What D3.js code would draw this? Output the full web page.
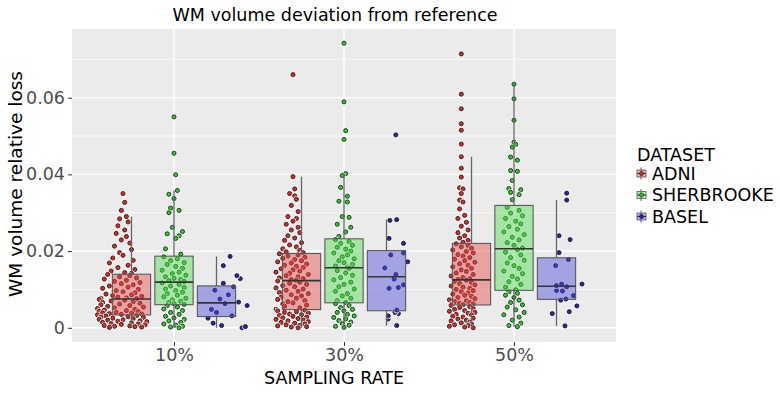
<!DOCTYPE html>
<html>
<head>
<meta charset="utf-8">
<script src="https://cdn.jsdelivr.net/npm/d3@7"></script>
<style>
  body { margin: 0; background: #fff; }
  text { font-family: "DejaVu Sans", sans-serif; }
</style>
</head>
<body>
<div id="chart"></div>
<script>
const rates = ["10%", "30%", "50%"];
const datasets = ["ADNI", "SHERBROOKE", "BASEL"];
const yTicks = [0, 0.02, 0.04, 0.06];
const yMinor = [0.01, 0.03, 0.05, 0.07];

// points: [horizontal jitter, relative loss]
const adni10 = [
  [0.00,.0350],[0.01,.0327],[-0.01,.0306],[0.02,.0290],[-0.02,.0284],[0.03,.0276],[-0.03,.0266],[0.01,.0255],[-0.04,.0246],[0.02,.0238],
  [-0.01,.0229],[0.04,.0221],[-0.05,.0213],[0.05,.0204],[-0.02,.0196],[0.00,.0189],[-0.06,.0182],[0.06,.0176],[-0.08,.0169],[0.03,.0163],
  [-0.03,.0157],[0.07,.0152],[-0.07,.0148],[0.01,.0144],[0.05,.0142],
  [-0.09,.0139],[0.04,.0136],[-0.02,.0133],[0.08,.0130],[-0.11,.0127],[0.02,.0124],[-0.05,.0121],[0.10,.0118],[-0.01,.0115],[0.06,.0112],
  [-0.08,.0109],[0.03,.0106],[-0.12,.0103],[0.09,.0100],[-0.04,.0097],[0.00,.0094],[0.07,.0091],[-0.10,.0088],[0.05,.0086],[-0.06,.0084],
  [0.11,.0082],[-0.03,.0080],[0.02,.0078],[-0.13,.0077],[0.08,.0076],
  [-0.14,.0074],[0.01,.0072],[-0.07,.0070],[0.06,.0068],[-0.12,.0066],[0.10,.0064],[-0.02,.0062],[-0.13,.0060],[0.04,.0058],[-0.09,.0056],
  [0.12,.0054],[-0.05,.0052],[-0.15,.0050],[0.07,.0048],[-0.11,.0046],[0.02,.0045],[-0.14,.0043],[0.09,.0042],[-0.04,.0040],[-0.12,.0039],
  [0.05,.0038],[-0.08,.0037],[0.11,.0036],[-0.01,.0035],[-0.15,.0034],
  [0.08,.0032],[-0.10,.0031],[0.03,.0029],[-0.13,.0028],[0.12,.0027],[-0.06,.0025],[0.06,.0024],[-0.14,.0022],[0.00,.0021],[-0.09,.0020],
  [0.10,.0018],[-0.03,.0017],[0.14,.0016],[-0.12,.0014],[0.05,.0013],[-0.07,.0011],[0.09,.0010],[-0.01,.0009],[0.13,.0008],[-0.11,.0006],
  [0.04,.0005],[-0.05,.0004],[0.07,.0003],[0.11,.0002],[-0.08,.0001]
];
const sherb10 = [
  [0.00,.0550],[0.00,.0455],[0.01,.0399],[0.02,.0358],[-0.03,.0348],[0.00,.0337],[-0.02,.0312],[0.03,.0306],[-0.03,.0300],[-0.01,.0262],
  [0.05,.0251],[-0.04,.0245],[0.03,.0240],[0.01,.0233],[-0.05,.0206],[0.04,.0192],
  [-0.06,.0185],[0.02,.0180],[-0.02,.0175],[0.06,.0170],[-0.04,.0165],[0.01,.0160],[0.05,.0155],[-0.07,.0150],[0.03,.0145],[-0.01,.0141],
  [0.07,.0137],[-0.05,.0133],[0.00,.0129],[0.04,.0126],[-0.03,.0123],[0.06,.0121],
  [-0.07,.0117],[0.03,.0113],[-0.02,.0109],[0.06,.0105],[-0.05,.0101],[0.01,.0097],[0.05,.0093],[-0.04,.0089],[0.02,.0085],[-0.06,.0081],
  [0.07,.0077],[-0.01,.0073],[0.04,.0069],[-0.03,.0066],[0.00,.0063],[0.06,.0061],
  [-0.04,.0058],[0.02,.0054],[-0.06,.0049],[0.05,.0045],[-0.02,.0040],[0.03,.0035],[-0.05,.0030],[0.00,.0026],[0.06,.0022],[-0.03,.0018],
  [0.04,.0014],[-0.06,.0010],[0.01,.0007],[0.05,.0004],[-0.02,.0002],[0.03,.0000]
];
const basel10 = [
  [0.10,.0000],[0.12,.0003],[-0.02,.0006],[-0.07,.0012],[-0.10,.0025],[0.04,.0031],[-0.05,.0040],[-0.08,.0048],[0.13,.0058],[0.00,.0063],
  [0.08,.0067],[-0.03,.0075],[0.02,.0086],[-0.06,.0098],[0.05,.0107],[-0.01,.0116],[0.09,.0128],[0.07,.0136],[-0.01,.0162],[0.03,.0186]
];
const adni30 = [
  [0.00,.0660],[0.00,.0394],[0.01,.0362],[-0.02,.0350],[0.01,.0344],[0.02,.0335],[-0.01,.0319],[0.03,.0303],[-0.03,.0290],[0.02,.0285],
  [0.00,.0278],[-0.04,.0270],[0.03,.0262],[-0.01,.0255],[0.04,.0248],[-0.03,.0240],[0.01,.0234],[-0.05,.0228],[0.05,.0222],[-0.02,.0216],
  [0.02,.0211],[-0.06,.0206],[0.04,.0202],[-0.04,.0198],[0.06,.0196],
  [-0.08,.0193],[0.03,.0190],[-0.03,.0187],[0.07,.0184],[-0.06,.0181],[0.01,.0178],[0.05,.0175],[-0.09,.0172],[-0.01,.0169],[0.08,.0166],
  [-0.05,.0163],[0.02,.0160],[0.06,.0157],[-0.07,.0154],[0.00,.0151],[0.04,.0148],[-0.10,.0145],[-0.02,.0142],[0.09,.0139],[-0.04,.0136],
  [0.03,.0133],[-0.08,.0130],[0.06,.0128],[-0.01,.0126],[0.02,.0124],
  [-0.09,.0122],[0.04,.0119],[-0.02,.0116],[0.08,.0113],[-0.06,.0110],[0.01,.0107],[-0.10,.0104],[0.06,.0101],[-0.04,.0098],[0.03,.0095],
  [-0.08,.0092],[0.09,.0089],[-0.01,.0086],[0.05,.0083],[-0.07,.0080],[0.02,.0077],[-0.09,.0074],[0.07,.0071],[-0.03,.0068],[0.00,.0065],
  [-0.06,.0062],[0.08,.0059],[-0.05,.0056],[0.04,.0052],[-0.10,.0048],
  [0.07,.0046],[-0.09,.0044],[0.02,.0042],[-0.05,.0040],[0.09,.0038],[-0.02,.0036],[0.05,.0034],[-0.08,.0032],[0.00,.0030],[0.08,.0028],
  [-0.06,.0026],[0.03,.0024],[-0.10,.0022],[0.06,.0020],[-0.03,.0018],[0.09,.0016],[-0.07,.0014],[0.01,.0012],[0.07,.0010],[-0.04,.0008],
  [0.04,.0006],[-0.09,.0005],[0.08,.0003],[-0.01,.0002],[0.03,.0000]
];
const sherb30 = [
  [0.00,.0742],[0.00,.0589],[0.01,.0514],[0.00,.0491],[0.01,.0402],[-0.01,.0397],[-0.02,.0366],[0.02,.0343],[-0.03,.0330],[0.02,.0328],
  [-0.01,.0290],[0.03,.0288],[-0.04,.0270],[0.04,.0262],[0.01,.0250],[-0.03,.0238],
  [-0.05,.0230],[0.03,.0225],[-0.02,.0220],[0.05,.0215],[-0.04,.0210],[0.01,.0205],[0.04,.0200],[-0.06,.0195],[0.02,.0190],[-0.01,.0185],
  [0.06,.0180],[-0.03,.0175],[0.00,.0170],[0.05,.0165],[-0.05,.0161],[0.02,.0158],
  [0.03,.0155],[-0.04,.0149],[0.01,.0143],[0.05,.0137],[-0.02,.0131],[-0.06,.0125],[0.04,.0119],[0.00,.0113],[-0.03,.0107],[0.06,.0101],
  [-0.05,.0095],[0.02,.0089],[-0.01,.0083],[0.04,.0077],[-0.04,.0071],[0.01,.0066],
  [-0.05,.0063],[0.03,.0058],[-0.02,.0053],[0.05,.0048],[0.00,.0044],[-0.04,.0040],[0.02,.0035],[0.06,.0031],[-0.06,.0027],[0.01,.0023],
  [-0.03,.0019],[0.04,.0015],[-0.01,.0011],[0.03,.0007],[-0.05,.0004],[0.00,.0001]
];
const basel30 = [
  [0.01,.0006],[-0.04,.0023],[-0.04,.0031],[0.02,.0037],[0.00,.0040],[0.01,.0046],[-0.035,.0103],[0.02,.0105],[0.05,.0112],[-0.005,.0127],
  [0.005,.0139],[-0.06,.0156],[0.075,.0172],[-0.025,.0190],[0.05,.0195],[0.05,.0220],[-0.035,.0233],[-0.03,.0280],[0.01,.0282],[0.005,.0503]
];
const adni50 = [
  [-0.01,.0714],[-0.01,.0609],[-0.01,.0571],[-0.01,.0532],[-0.01,.0515],[-0.01,.0479],[-0.01,.0446],[-0.01,.0416],[-0.01,.0393],[-0.02,.0365],
  [0.00,.0362],[-0.01,.0350],[-0.02,.0333],[0.00,.0328],[-0.02,.0310],[0.01,.0293],[-0.03,.0285],[0.02,.0275],[-0.01,.0265],[0.03,.0255],
  [-0.03,.0248],[0.01,.0240],[-0.02,.0234],[0.03,.0228],[0.00,.0223],
  [-0.04,.0219],[0.03,.0215],[-0.01,.0211],[0.05,.0207],[-0.06,.0203],[0.02,.0199],[0.06,.0195],[-0.03,.0191],[0.00,.0187],[0.04,.0183],
  [-0.05,.0179],[0.01,.0175],[0.07,.0171],[-0.02,.0167],[0.03,.0163],[-0.06,.0159],[0.05,.0155],[-0.01,.0151],[0.02,.0147],[-0.04,.0143],
  [0.06,.0139],[-0.07,.0135],[0.00,.0131],[0.04,.0128],[-0.03,.0126],
  [0.02,.0124],[-0.05,.0121],[0.05,.0118],[-0.02,.0115],[0.07,.0112],[-0.07,.0109],[0.00,.0106],[0.04,.0103],[-0.04,.0100],[0.06,.0097],
  [-0.01,.0094],[0.03,.0091],[-0.06,.0088],[0.01,.0085],[0.05,.0082],[-0.03,.0079],[0.07,.0076],[-0.08,.0073],[0.02,.0070],[-0.05,.0068],
  [0.04,.0066],[-0.02,.0064],[0.06,.0062],[-0.07,.0061],[0.00,.0060],
  [-0.07,.0058],[0.04,.0055],[-0.02,.0053],[0.06,.0050],[-0.05,.0048],[0.01,.0045],[-0.08,.0043],[0.07,.0040],[0.03,.0038],[-0.04,.0035],
  [0.05,.0033],[-0.06,.0030],[0.00,.0028],[0.06,.0025],[-0.03,.0023],[0.02,.0020],[-0.07,.0018],[0.04,.0015],[-0.01,.0013],[0.05,.0010],
  [-0.05,.0008],[0.03,.0006],[-0.08,.0004],[0.01,.0002],[0.06,.0000]
];
const sherb50 = [
  [0.00,.0635],[0.00,.0597],[0.00,.0541],[0.00,.0484],[0.01,.0478],[-0.01,.0471],[-0.02,.0445],[0.02,.0437],[-0.02,.0410],[0.02,.0408],
  [-0.01,.0384],[-0.03,.0363],[0.04,.0360],[-0.02,.0353],[0.03,.0347],[-0.01,.0334],
  [-0.04,.0314],[0.03,.0306],[-0.02,.0299],[0.05,.0292],[-0.05,.0285],[0.01,.0278],[0.04,.0271],[-0.03,.0264],[0.02,.0257],[-0.06,.0250],
  [0.06,.0243],[-0.01,.0236],[0.03,.0229],[-0.04,.0222],[0.00,.0215],[0.05,.0208],
  [0.02,.0204],[-0.05,.0197],[0.04,.0190],[-0.02,.0183],[0.06,.0176],[-0.04,.0169],[0.00,.0162],[0.03,.0155],[-0.06,.0148],[0.05,.0141],
  [-0.01,.0134],[0.02,.0127],[-0.03,.0120],[0.04,.0113],[-0.05,.0106],[0.01,.0099],
  [-0.03,.0094],[0.02,.0090],[-0.05,.0085],[0.00,.0079],[0.03,.0072],[-0.02,.0066],[0.05,.0060],[-0.04,.0054],[0.01,.0047],[0.06,.0040],
  [-0.06,.0034],[0.03,.0028],[-0.01,.0020],[0.04,.0012],[-0.03,.0006],[0.02,.0003]
];
const basel50 = [
  [0.00,.0005],[-0.075,.0037],[0.025,.0042],[0.07,.0057],[-0.025,.0072],[0.005,.0075],[0.05,.0084],[-0.015,.0096],[-0.05,.0097],[0.01,.0107],
  [-0.05,.0110],[-0.02,.0114],[0.10,.0114],[-0.055,.0162],[0.02,.0178],[-0.035,.0196],[0.03,.0230],[-0.035,.0240],[0.01,.0333],[0.01,.0351]
];

const series = [
  [adni10, sherb10, basel10],
  [adni30, sherb30, basel30],
  [adni50, sherb50, basel50]
];

const pointColor = { ADNI: "#dd2a24", SHERBROOKE: "#2ccc2c", BASEL: "#2626a8" };
const boxColor = { ADNI: "#e44949", SHERBROOKE: "#51dc51", BASEL: "#4b4bdc" };

const width = 780, height = 393;
const panel = { left: 72, right: 616, top: 29, bottom: 342 };

const svg = d3.select("#chart").append("svg")
  .attr("width", width)
  .attr("height", height);

const x = d3.scaleLinear().domain([0.4, 3.6]).range([panel.left, panel.right]);
const y = d3.scaleLinear().domain([-0.0037, 0.0779]).range([panel.bottom, panel.top]);

// dodge offsets (category units)
const boxDodge = d3.scalePoint().domain(datasets).range([-0.25, 0.25]);
const pointDodge = d3.scalePoint().domain(datasets).range([-0.3, 0.3]);
const boxWidth = 0.225;

// panel + grid
svg.append("rect")
  .attr("x", panel.left).attr("y", panel.top)
  .attr("width", panel.right - panel.left).attr("height", panel.bottom - panel.top)
  .attr("fill", "#ebebeb");

svg.selectAll(".minor").data(yMinor).enter().append("line")
  .attr("x1", panel.left).attr("x2", panel.right)
  .attr("y1", d => y(d)).attr("y2", d => y(d))
  .attr("stroke", "#fff").attr("stroke-width", 0.7);

svg.selectAll(".major").data(yTicks).enter().append("line")
  .attr("x1", panel.left).attr("x2", panel.right)
  .attr("y1", d => y(d)).attr("y2", d => y(d))
  .attr("stroke", "#fff").attr("stroke-width", 1.4);

svg.selectAll(".vmajor").data(rates).enter().append("line")
  .attr("x1", (d, i) => x(i + 1)).attr("x2", (d, i) => x(i + 1))
  .attr("y1", panel.top).attr("y2", panel.bottom)
  .attr("stroke", "#fff").attr("stroke-width", 1.4);

// groups
const groups = [];
rates.forEach((r, i) => {
  datasets.forEach((ds, j) => {
    const pts = series[i][j];
    const vals = pts.map(p => p[1]).sort(d3.ascending);
    const q1 = d3.quantile(vals, 0.25), med = d3.quantile(vals, 0.5), q3 = d3.quantile(vals, 0.75);
    const iqr = q3 - q1;
    const lo = d3.min(vals.filter(v => v >= q1 - 1.5 * iqr));
    const hi = d3.max(vals.filter(v => v <= q3 + 1.5 * iqr));
    groups.push({ rate: r, idx: i + 1, dataset: ds, pts, q1, med, q3, lo, hi });
  });
});

// jittered points (drawn under the boxes)
const pointLayer = svg.append("g");
groups.forEach(g => {
  g.pts.forEach(p => {
    const cx = x(g.idx + pointDodge(g.dataset) + p[0]);
    const cy = y(p[1]);
    pointLayer.append("circle").attr("cx", cx).attr("cy", cy).attr("r", 3.1).attr("fill", "#fff");
    pointLayer.append("circle").attr("cx", cx).attr("cy", cy).attr("r", 2.1)
      .attr("fill", pointColor[g.dataset]).attr("stroke", "#111").attr("stroke-width", 0.8);
  });
});

// boxplots
const boxLayer = svg.append("g");
groups.forEach(g => {
  const cx = x(g.idx + boxDodge(g.dataset));
  const hw = (x(boxWidth) - x(0)) / 2;
  boxLayer.append("line")
    .attr("x1", cx).attr("x2", cx).attr("y1", y(g.q3)).attr("y2", y(g.hi))
    .attr("stroke", "#666").attr("stroke-width", 1.3);
  boxLayer.append("line")
    .attr("x1", cx).attr("x2", cx).attr("y1", y(g.q1)).attr("y2", y(g.lo))
    .attr("stroke", "#666").attr("stroke-width", 1.3);
  boxLayer.append("rect")
    .attr("x", cx - hw).attr("y", y(g.q3))
    .attr("width", 2 * hw).attr("height", y(g.q1) - y(g.q3))
    .attr("fill", boxColor[g.dataset]).attr("fill-opacity", 0.45)
    .attr("stroke", "#5a5a5a").attr("stroke-width", 1.1);
  boxLayer.append("line")
    .attr("x1", cx - hw).attr("x2", cx + hw).attr("y1", y(g.med)).attr("y2", y(g.med))
    .attr("stroke", "#333").attr("stroke-width", 1.6);
});

// axes
const yAxis = svg.append("g")
  .attr("transform", `translate(${panel.left},0)`)
  .call(d3.axisLeft(y).tickValues(yTicks).tickSize(4).tickPadding(3)
    .tickFormat(d => d === 0 ? "0" : d3.format(".2f")(d)));
const xAxis = svg.append("g")
  .attr("transform", `translate(0,${panel.bottom})`)
  .call(d3.axisBottom(x).tickValues([1, 2, 3]).tickSize(4).tickPadding(3)
    .tickFormat(d => rates[d - 1]));
[yAxis, xAxis].forEach(a => {
  a.select(".domain").remove();
  a.selectAll(".tick line").attr("stroke", "#333").attr("stroke-width", 1);
  a.selectAll(".tick text").attr("fill", "#4d4d4d")
    .style("font-size", "17.5px").style("font-family", "DejaVu Sans");
});

// titles
svg.append("text")
  .attr("x", 335).attr("y", 21)
  .attr("text-anchor", "middle")
  .style("font-size", "17.5px")
  .text("WM volume deviation from reference");

svg.append("text")
  .attr("x", 334).attr("y", 384)
  .attr("text-anchor", "middle")
  .style("font-size", "17.5px")
  .text("SAMPLING RATE");

svg.append("text")
  .attr("transform", "translate(22,184) rotate(-90)")
  .attr("text-anchor", "middle")
  .style("font-size", "18.5px")
  .text("WM volume relative loss");

// legend
const legend = svg.append("g").attr("transform", "translate(636,0)");
legend.append("text").attr("x", 1).attr("y", 161)
  .style("font-size", "17.5px").text("DATASET");

datasets.forEach((ds, i) => {
  const cy = 173.5 + i * 21.5;
  const k = legend.append("g");
  k.append("line").attr("x1", 5).attr("x2", 5).attr("y1", cy - 6).attr("y2", cy + 6)
    .attr("stroke", "#666").attr("stroke-width", 1);
  k.append("rect").attr("x", 1).attr("y", cy - 3.5).attr("width", 9).attr("height", 7)
    .attr("fill", boxColor[ds]).attr("fill-opacity", 0.45)
    .attr("stroke", "#5a5a5a").attr("stroke-width", 0.8);
  k.append("line").attr("x1", 1).attr("x2", 10).attr("y1", cy).attr("y2", cy)
    .attr("stroke", "#333").attr("stroke-width", 1);
  k.append("circle").attr("cx", 5.5).attr("cy", cy).attr("r", 2)
    .attr("fill", pointColor[ds]).attr("stroke", "#111").attr("stroke-width", 0.6);
  legend.append("text").attr("x", 16).attr("y", cy + 6)
    .style("font-size", "17.5px").text(ds);
});
</script>
</body>
</html>
